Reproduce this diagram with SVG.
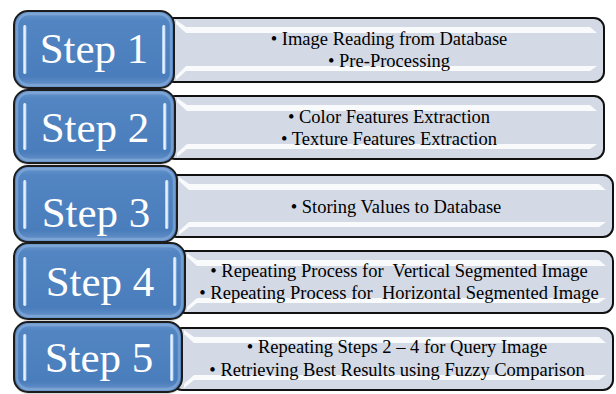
<svg xmlns="http://www.w3.org/2000/svg" width="616" height="394" viewBox="0 0 616 394">
<defs>
<linearGradient id="stepGrad" x1="0" y1="0" x2="0" y2="1">
<stop offset="0" stop-color="#6f9ad0"/>
<stop offset="0.12" stop-color="#5285c2"/>
<stop offset="0.85" stop-color="#4a7dbb"/>
<stop offset="1" stop-color="#6c97cc"/>
</linearGradient>
<linearGradient id="barGrad" x1="0" y1="0" x2="1" y2="0">
<stop offset="0" stop-color="#9cc3ee"/>
<stop offset="0.5" stop-color="#f2f8ff"/>
<stop offset="1" stop-color="#9cc3ee"/>
</linearGradient>
</defs>

<g id="row1">
<g id="info1">
<rect fill="#d3dae6" stroke="#111" stroke-width="2" x="164" y="18" width="440" height="64" rx="10"/>
<polygon fill="#fff" opacity="0.85" points="176,20 186,27 590,27 597,33 186,33 176,24"/>
<polygon fill="#fff" opacity="0.85" points="176,80 186,71 590,71 597,66 186,66 176,76"/>
<text font-family="Liberation Serif" font-size="18.5" text-anchor="middle" x="389" y="45">&#8226; Image Reading from Database</text>
<text font-family="Liberation Serif" font-size="18.5" text-anchor="middle" x="389" y="67">&#8226; Pre-Processing</text>
</g>
<g id="step1">
<rect fill="#000" opacity="0.15" x="14" y="13" width="160" height="77" rx="14"/>
<rect fill="url(#stepGrad)" stroke="#1c1c1c" stroke-width="2" x="14" y="11" width="160" height="77" rx="14"/>
<rect fill="none" stroke="#8fb4e0" stroke-width="2.5" opacity="0.55" x="17" y="14" width="154" height="71" rx="12"/>
<rect fill="url(#barGrad)" x="23" y="25" width="3.5" height="49" rx="1.7"/>
<rect fill="url(#barGrad)" x="162" y="25" width="3.5" height="49" rx="1.7"/>
<text font-family="Liberation Serif" font-size="43" text-anchor="middle" fill="#fff" x="94" y="63">Step 1</text>
</g>
</g>

<g id="row2">
<g id="info2">
<rect fill="#d3dae6" stroke="#111" stroke-width="2" x="165" y="96" width="439" height="63" rx="10"/>
<polygon fill="#fff" opacity="0.85" points="177,98 187,105 590,105 597,111 187,111 177,102"/>
<polygon fill="#fff" opacity="0.85" points="177,157 187,149 590,149 597,144 187,144 177,153"/>
<text font-family="Liberation Serif" font-size="18.5" text-anchor="middle" x="389" y="123">&#8226; Color Features Extraction</text>
<text font-family="Liberation Serif" font-size="18.5" text-anchor="middle" x="389" y="145">&#8226; Texture Features Extraction</text>
</g>
<g id="step2">
<rect fill="#000" opacity="0.15" x="14" y="92" width="161" height="73" rx="14"/>
<rect fill="url(#stepGrad)" stroke="#1c1c1c" stroke-width="2" x="14" y="90" width="161" height="73" rx="14"/>
<rect fill="none" stroke="#8fb4e0" stroke-width="2.5" opacity="0.55" x="17" y="93" width="155" height="67" rx="12"/>
<rect fill="url(#barGrad)" x="23" y="103" width="3.5" height="47" rx="1.7"/>
<rect fill="url(#barGrad)" x="163" y="103" width="3.5" height="47" rx="1.7"/>
<text font-family="Liberation Serif" font-size="43" text-anchor="middle" fill="#fff" x="95" y="142">Step 2</text>
</g>
</g>

<g id="row3">
<g id="info3">
<rect fill="#d3dae6" stroke="#111" stroke-width="2" x="167" y="175" width="446" height="62" rx="10"/>
<polygon fill="#fff" opacity="0.85" points="179,177 189,184 599,184 606,190 189,190 179,181"/>
<polygon fill="#fff" opacity="0.85" points="179,235 189,227 599,227 606,222 189,222 179,231"/>
<text font-family="Liberation Serif" font-size="18.5" text-anchor="middle" x="396" y="213">&#8226; Storing Values to Database</text>
</g>
<g id="step3">
<rect fill="#000" opacity="0.15" x="14" y="168" width="163" height="76" rx="14"/>
<rect fill="url(#stepGrad)" stroke="#1c1c1c" stroke-width="2" x="14" y="166" width="163" height="76" rx="14"/>
<rect fill="none" stroke="#8fb4e0" stroke-width="2.5" opacity="0.55" x="17" y="169" width="157" height="70" rx="12"/>
<rect fill="url(#barGrad)" x="23" y="180" width="3.5" height="49" rx="1.7"/>
<rect fill="url(#barGrad)" x="165" y="180" width="3.5" height="49" rx="1.7"/>
<text font-family="Liberation Serif" font-size="43" text-anchor="middle" fill="#fff" x="96" y="227">Step 3</text>
</g>
</g>

<g id="row4">
<g id="info4">
<rect fill="#d3dae6" stroke="#111" stroke-width="2" x="175" y="251" width="438" height="62" rx="10"/>
<polygon fill="#fff" opacity="0.85" points="187,253 197,260 599,260 606,266 197,266 187,257"/>
<polygon fill="#fff" opacity="0.85" points="187,311 197,303 599,303 606,298 197,298 187,307"/>
<text font-family="Liberation Serif" font-size="18.5" text-anchor="middle" xml:space="preserve" x="399" y="277">&#8226; Repeating Process for  Vertical Segmented Image</text>
<text font-family="Liberation Serif" font-size="18.5" text-anchor="middle" xml:space="preserve" x="399" y="299">&#8226; Repeating Process for  Horizontal Segmented Image</text>
</g>
<g id="step4">
<rect fill="#000" opacity="0.15" x="14" y="245" width="171" height="76" rx="14"/>
<rect fill="url(#stepGrad)" stroke="#1c1c1c" stroke-width="2" x="14" y="243" width="171" height="76" rx="14"/>
<rect fill="none" stroke="#8fb4e0" stroke-width="2.5" opacity="0.55" x="17" y="246" width="165" height="70" rx="12"/>
<rect fill="url(#barGrad)" x="23" y="257" width="3.5" height="49" rx="1.7"/>
<rect fill="url(#barGrad)" x="173" y="257" width="3.5" height="49" rx="1.7"/>
<text font-family="Liberation Serif" font-size="43" text-anchor="middle" fill="#fff" x="100" y="296">Step 4</text>
</g>
</g>

<g id="row5">
<g id="info5">
<rect fill="#d3dae6" stroke="#111" stroke-width="2" x="172" y="328" width="441" height="62" rx="10"/>
<polygon fill="#fff" opacity="0.85" points="184,330 194,337 599,337 606,343 194,343 184,334"/>
<polygon fill="#fff" opacity="0.85" points="184,388 194,380 599,380 606,375 194,375 184,384"/>
<text font-family="Liberation Serif" font-size="18.5" text-anchor="middle" x="397" y="353">&#8226; Repeating Steps 2 &#8211; 4 for Query Image</text>
<text font-family="Liberation Serif" font-size="18.5" text-anchor="middle" x="397" y="376">&#8226; Retrieving Best Results using Fuzzy Comparison</text>
</g>
<g id="step5">
<rect fill="#000" opacity="0.15" x="14" y="324" width="168" height="70" rx="14"/>
<rect fill="url(#stepGrad)" stroke="#1c1c1c" stroke-width="2" x="14" y="322" width="168" height="70" rx="14"/>
<rect fill="none" stroke="#8fb4e0" stroke-width="2.5" opacity="0.55" x="17" y="325" width="162" height="64" rx="12"/>
<rect fill="url(#barGrad)" x="23" y="334" width="3.5" height="47" rx="1.7"/>
<rect fill="url(#barGrad)" x="170" y="334" width="3.5" height="47" rx="1.7"/>
<text font-family="Liberation Serif" font-size="43" text-anchor="middle" fill="#fff" x="99" y="372">Step 5</text>
</g>
</g>
</svg>
